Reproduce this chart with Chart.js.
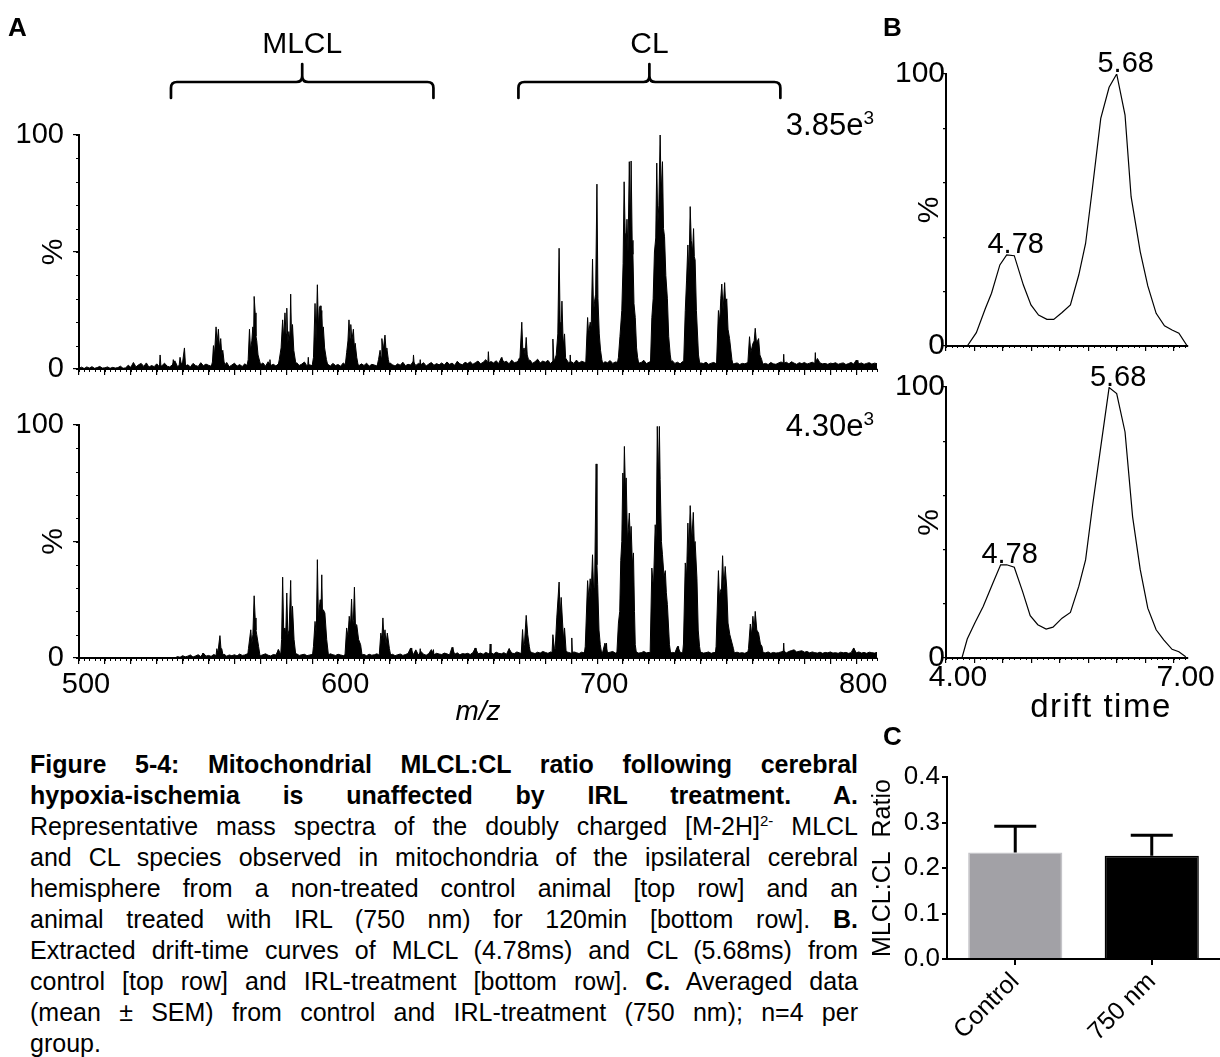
<!DOCTYPE html>
<html>
<head>
<meta charset="utf-8">
<script src="https://cdn.jsdelivr.net/npm/chart.js@4.4.1/dist/chart.umd.min.js"></script>
<style>
html, body { margin: 0; padding: 0; background: #fff; }
body { width: 1220px; height: 1057px; overflow: hidden; position: relative; font-family: "Liberation Sans", Arial, sans-serif; color: #000; }
canvas { position: absolute; }
.txt { position: absolute; line-height: 1; white-space: nowrap; }
.panel { font-weight: bold; font-size: 26px; }
.scaleLbl { font-size: 31px; width: 174px; text-align: right; }
.scaleLbl span { font-size: 19px; vertical-align: 11px; }
#caption { position: absolute; left: 30px; top: 749px; width: 828px; font-size: 25px; line-height: 31px; }
#caption .ln { text-align: justify; text-align-last: justify; text-justify: inter-word; height: 31px; }
#caption .ln.last { text-align-last: left; }
#caption sup { font-size: 15px; line-height: 0; vertical-align: 9px; }
</style>
</head>
<body>
<canvas id="specCtl" width="900" height="380" style="left:0;top:0"></canvas>
<canvas id="specIrl" width="900" height="360" style="left:0;top:380px"></canvas>
<canvas id="driftCtl" width="340" height="380" style="left:880px;top:0"></canvas>
<canvas id="driftIrl" width="340" height="380" style="left:880px;top:350px"></canvas>
<canvas id="ratio" width="380" height="317" style="left:860px;top:740px"></canvas>

<div class="txt panel" style="left:8px;top:14px">A</div>
<div class="txt panel" style="left:883px;top:14px">B</div>
<div class="txt panel" style="left:883px;top:723px">C</div>
<div class="txt scaleLbl" style="left:700px;top:108px">3.85e<span>3</span></div>
<div class="txt scaleLbl" style="left:700px;top:409px">4.30e<span>3</span></div>
<div class="txt" style="left:1001px;top:689px;width:200px;text-align:center;font-size:33px;letter-spacing:1.5px">drift time</div>

<div id="caption">
  <div class="ln"><b>Figure 5-4: Mitochondrial MLCL:CL ratio following cerebral</b></div>
  <div class="ln"><b>hypoxia-ischemia is unaffected by IRL treatment. A.</b></div>
  <div class="ln">Representative mass spectra of the doubly charged [M-2H]<sup>2-</sup> MLCL</div>
  <div class="ln">and CL species observed in mitochondria of the ipsilateral cerebral</div>
  <div class="ln">hemisphere from a non-treated control animal [top row] and an</div>
  <div class="ln">animal treated with IRL (750 nm) for 120min [bottom row]. <b>B.</b></div>
  <div class="ln">Extracted drift-time curves of MLCL (4.78ms) and CL (5.68ms) from</div>
  <div class="ln">control [top row] and IRL-treatment [bottom row]. <b>C.</b> Averaged data</div>
  <div class="ln">(mean ± SEM) from control and IRL-treatment (750 nm); n=4 per</div>
  <div class="ln last">group.</div>
</div>

<script>
// --- panel A: mass spectra (m/z vs %), baseline noise sampled every 1 m/z from 500 ---
const noiseStartMz = 500;

const ctlNoise = [
  0.3,0.8,0.2,0.9,0.4,1.0,0.3,0.6,1.1,0.4,
  0.5,0.9,0.3,0.7,0.4,0.6,1.2,0.3,0.5,1.6,
  0.7,2.8,0.9,1.8,2.4,1.1,2.6,0.8,1.5,1.0,
  2.2,1.0,1.4,2.5,1.2,0.9,1.7,3.5,1.1,1.6,
  2.0,1.3,1.8,0.9,2.4,1.5,1.1,2.7,1.4,2.1,
  1.6,1.2,2.3,1.9,1.5,2.2,1.3,2.8,1.0,1.7,
  2.5,1.2,1.9,1.1,2.2,1.4,2.0,1.6,1.3,2.4,
  1.8,2.6,1.2,3.1,1.5,2.0,1.3,2.2,1.6,1.1,
  1.9,1.4,2.3,1.2,2.7,1.5,2.1,3.0,1.3,1.8,
  1.4,2.2,1.7,1.1,2.5,1.6,2.0,1.3,2.4,1.5,
  1.9,1.2,2.6,1.6,1.3,2.1,1.8,2.9,1.4,2.2,
  1.5,2.5,1.2,2.0,1.7,1.3,2.3,1.6,2.1,1.4,
  2.6,1.8,1.3,2.2,1.6,2.9,1.4,2.0,1.7,3.2,
  1.5,2.4,1.9,2.7,1.3,2.1,2.8,1.6,2.3,1.8,
  2.6,1.7,3.0,2.0,2.5,1.6,3.3,2.2,1.8,2.9,
  2.3,3.1,2.0,2.7,3.4,2.2,2.9,4.0,2.5,3.2,
  2.6,3.5,2.4,4.8,2.9,3.3,2.2,3.8,2.7,3.0,
  3.6,2.5,3.2,2.8,3.9,2.4,3.1,4.2,2.6,3.4,
  2.9,3.7,2.3,3.5,2.8,3.2,2.5,3.6,4.3,2.7,
  3.1,2.4,3.8,2.6,3.3,2.9,2.5,3.5,2.8,3.0,
  2.6,3.4,2.2,3.1,2.7,3.6,2.4,3.0,2.8,2.5,
  3.2,2.6,3.0,2.4,2.9,3.3,2.5,2.8,3.7,2.3,
  2.9,3.4,2.6,3.0,2.5,2.8,3.1,2.4,2.7,3.5,
  2.4,2.9,2.2,3.2,2.6,2.3,2.8,2.5,3.0,2.1,
  2.6,2.3,2.9,2.0,2.5,2.8,2.2,2.4,2.7,2.1,
  2.5,2.8,2.0,2.3,2.6,1.9,2.4,2.2,2.7,2.0,
  2.3,2.6,1.8,2.5,2.1,2.4,1.9,2.8,2.2,2.0,
  2.6,3.0,2.4,2.9,2.2,3.1,2.5,2.0,2.7,2.3,
  2.8,2.1,2.5,2.9,2.3,4.5,2.6,2.2,2.4,2.0,
  2.5,2.3,2.7,2.0,2.4,2.6,1.9,2.3,2.8,2.1,
  3.8,2.2,2.6,2.0,2.4,2.7,2.1,2.5,2.3
];

const irlNoise = [
  0,0,0,0,0,0,0,0,0,0,
  0,0,0,0,0,0,0,0,0,0,
  0,0,0,0,0,0,0,0,0,0,
  0,0,0,0,0,0,0,0,
  0.6,0.3,1.0,0.5,0.8,1.3,0.4,0.9,1.4,0.6,2.1,0.8,
  1.1,0.7,1.5,1.0,1.2,0.9,1.6,0.8,1.3,1.0,
  1.4,0.9,1.7,1.1,1.3,1.8,1.0,1.5,1.2,1.6,
  1.0,1.4,1.8,1.2,0.9,1.5,1.3,3.6,1.1,1.4,
  1.7,1.0,1.5,1.2,1.8,1.1,1.4,1.6,1.0,1.3,
  1.5,1.1,1.7,1.3,1.0,1.6,1.2,1.8,1.4,1.1,
  1.6,1.3,1.0,1.5,1.2,1.7,1.4,1.1,1.9,1.3,
  1.5,1.0,1.6,1.2,1.4,1.8,1.1,1.5,1.3,1.7,
  1.2,1.6,1.0,1.4,1.7,1.1,1.5,1.9,4.3,1.4,
  3.5,1.3,2.8,1.6,1.2,1.9,3.6,1.4,2.0,1.7,
  1.5,2.1,1.8,1.3,4.6,1.6,2.2,1.4,1.9,1.7,
  2.0,1.5,2.3,4.3,1.8,2.1,1.6,2.4,1.9,2.2,
  1.7,2.5,2.0,1.8,2.3,1.6,4.0,2.1,1.9,2.6,
  2.2,1.8,2.4,2.0,2.7,2.3,1.9,2.5,2.1,2.8,
  2.4,2.0,2.6,2.2,1.9,2.5,2.3,2.1,2.7,2.4,
  2.0,2.6,2.3,1.9,2.5,2.2,2.8,2.1,2.4,2.0,
  2.3,2.6,2.0,6.4,2.2,2.5,2.8,2.1,2.4,2.0,
  2.5,2.2,2.7,2.0,2.4,2.6,2.1,2.3,2.8,2.2,
  2.4,2.0,2.6,2.3,2.1,2.5,2.2,2.7,2.0,2.4,
  2.2,5.0,2.5,2.1,2.3,2.6,2.0,2.4,2.7,2.2,
  2.5,2.1,2.3,2.6,2.0,2.4,2.2,2.7,2.1,2.3,
  2.6,2.0,2.4,2.2,2.5,2.1,2.3,2.0,2.6,2.2,
  2.4,2.1,2.5,2.0,2.3,2.2,2.6,2.0,2.4,2.1,
  2.3,2.6,3.0,2.2,2.8,3.2,3.5,2.6,2.9,3.1,
  2.5,2.8,2.2,2.6,2.3,2.1,2.5,2.0,2.4,2.2,
  2.6,2.1,2.3,2.0,2.5,2.2,2.4,2.0,2.3,4.3,
  2.2,2.6,2.1,2.4,2.0,2.5,2.3,2.1,2.4
];

// isotope clusters, [m/z, %]
const ctlPeaks = [
  [531.0,0],[531.3,6],[531.7,0],
  [536.0,0],[536.4,4],[536.8,0],
  [538.5,0],[539.0,5],[539.5,2],[540.0,3],[540.7,9],[541.2,0],
  [550.8,0],[551.5,3],[551.9,10],[552.3,6],[552.9,18],[553.3,11],[553.8,17],[554.2,9],[554.7,13],[555.1,6],[555.5,8],[556.0,3],[556.8,0],
  [564.6,0],[565.3,4],[565.8,17],[566.2,8],[566.7,12],[567.1,18],[567.4,14],[567.6,31],[568.0,24],[568.3,14],[568.6,12],[569.1,6],[569.8,3],[570.6,0],
  [573.4,0],[573.7,4],[574.0,0],
  [576.6,0],[577.3,4],[578.0,9],[578.6,21],[579.0,13],[579.5,24],[579.9,15],[580.2,26],[580.6,11],[581.0,16],[581.4,12],[581.7,32],[582.0,15],[582.4,19],[582.9,8],[583.6,3],[584.4,0],
  [588.2,0],[588.5,5],[588.8,0],
  [589.8,0],[590.5,5],[591.1,28],[591.5,12],[592.0,36],[592.4,18],[592.8,26],[593.1,27],[593.4,19],[593.7,25],[594.0,15],[594.3,18],[594.8,9],[595.5,4],[596.4,0],
  [602.6,0],[603.3,7],[603.8,12],[604.2,21],[604.6,13],[604.9,19],[605.3,12],[605.9,17],[606.3,9],[606.6,11],[607.2,5],[608.0,0],
  [614.8,0],[615.6,4],[616.2,8],[616.6,5],[616.9,13],[617.4,8],[618.1,14.5],[618.5,8],[618.8,9],[619.4,4],[620.2,0],
  [628.8,0],[629.1,6],[629.5,0],[631.4,0],[631.7,4],[632.0,0],
  [657.7,0],[658.0,7.4],[658.4,0],[662.9,0],[663.2,5],[663.6,0],
  [669.2,0],[669.6,4],[670.2,5],[670.9,20],[671.3,8],[671.8,9],[672.2,6],[672.6,13.5],[673.0,6],[673.5,4],[674.2,0],
  [682.6,0],[682.9,12.8],[683.3,3],[684.2,6],[684.8,15],[685.3,51.6],[685.7,20],[686.0,14],[686.4,29],[686.9,10],[687.4,15],[687.8,5],[688.6,0],
  [689.4,0],[689.6,6],[689.9,0],
  [695.5,0],[696.3,22],[696.7,15],[697.3,20],[697.7,18],[698.2,47],[698.6,24],[699.0,29],[699.4,32],[699.9,79],[700.3,30],[700.8,15],[701.3,8],[701.8,4],[702.6,0],
  [707.4,0],[708.2,5],[708.8,14],[709.5,25],[710.0,45],[710.4,80],[710.8,58],[711.1,52],[711.5,64],[711.9,50],[712.4,88.6],[712.8,60],[713.1,88.9],[713.5,55],[713.8,49],[714.2,28],[714.7,22],[715.2,9],[715.6,5],[716.4,0],
  [720.5,0],[721.1,22],[721.6,30],[722.1,50],[722.6,56],[723.0,88],[723.4,62],[723.8,70],[724.3,100],[724.7,75],[725.2,88.6],[725.6,60],[726.0,56.5],[726.5,40],[727.1,30],[727.6,14],[728.2,6],[729.0,0],
  [733.3,0],[734.0,25],[734.5,38],[735.0,53],[735.4,40],[735.9,69.4],[736.3,55],[736.8,50],[737.2,60],[737.5,48],[737.8,46.6],[738.3,25],[739.1,6],[739.9,0],
  [746.0,0],[746.8,25],[747.3,20],[747.7,30],[748.1,36.3],[748.6,25],[749.2,36.9],[749.6,27],[750.0,30],[750.5,17],[751.1,13],[752.0,4],[752.8,0],
  [758.0,0],[758.8,13.8],[759.3,7],[760.1,10.9],[760.6,12],[761.0,17.4],[761.5,11],[762.3,13],[762.8,6],[763.5,4],[764.4,0],
  [771.7,0],[772.0,6.3],[772.3,0],[783.9,0],[784.2,7],[784.5,0],[800.0,0],[800.3,3.7],[800.6,0]
];

const irlPeaks = [
  [547.5,0],[547.8,2.1],[548.1,0],
  [552.8,0],[553.2,4],[553.6,2],[554.0,6],[554.4,9.6],[554.8,4],[555.1,4],[555.8,0],
  [565.0,0],[565.4,4],[566.3,12.1],[566.7,6],[567.1,10],[567.6,26.7],[568.0,17.2],[568.3,12],[568.6,10],[569.3,5],[570.0,0],
  [576.6,0],[576.9,3.6],[577.2,0],
  [577.8,0],[578.2,8],[578.6,34.7],[579.0,12],[579.5,12.9],[579.8,10],[580.2,27.9],[580.6,10],[581.1,12],[581.7,33.3],[582.0,15],[582.4,22.2],[583.0,8],[583.8,0],
  [590.0,0],[590.5,5],[591.1,15.7],[591.6,10],[592.0,42.2],[592.4,18],[592.6,20],[593.1,25],[593.4,20],[593.7,35.7],[594.0,18],[594.3,20.7],[594.9,19.3],[595.6,8],[596.4,0],
  [602.6,0],[603.3,12.9],[603.8,9],[604.3,17.9],[604.8,14],[605.2,25.3],[605.6,14],[605.9,16],[606.3,30.4],[606.7,14],[607.2,14.3],[607.9,8],[608.7,5.7],[609.4,0],
  [615.8,0],[616.5,10.7],[616.9,8],[617.3,17.2],[617.7,8],[618.1,12.1],[618.5,6],[619.0,10.7],[619.8,4],[620.5,0],
  [628.1,0],[628.4,4.3],[628.8,0],[631.4,0],[631.7,4],[632.0,0],[636.5,0],[636.8,3.6],[637.1,0],
  [644.0,0],[644.3,4.6],[644.6,0],[652.6,0],[652.9,4.3],[653.2,0],[658.4,0],[658.7,6],[659.0,0],[665.8,0],[666.1,4],[666.4,0],
  [670.6,0],[671.2,12.2],[671.6,5],[671.9,5.7],[672.6,18.3],[673.2,10],[673.8,5],[674.6,0],
  [682.5,0],[682.9,10],[683.5,4],[683.8,4],[684.4,17.2],[685.3,32.6],[685.7,18],[686.1,26],[687.0,8],[687.4,12.9],[688.0,3],[688.8,0],
  [689.9,0],[690.2,8.6],[690.5,0],
  [694.8,0],[695.4,5],[696.3,33.2],[696.8,25],[697.3,34],[697.7,28],[698.2,44.3],[698.6,30],[699.0,30],[699.6,83.3],[699.9,40],[700.2,31.5],[700.7,12],[701.2,5.7],[702.0,0],
  [703.3,0],[703.6,6.4],[703.9,0],
  [707.5,0],[708.2,15],[708.7,20],[709.1,41.8],[709.5,50],[709.9,79.4],[710.2,70],[710.5,90.8],[710.9,72],[711.2,77.3],[711.7,50],[712.0,55],[712.4,62.2],[712.8,50],[713.1,56.5],[713.6,40],[714.0,45.1],[714.4,20],[714.7,5.7],[715.4,0],
  [720.4,0],[721.1,38.6],[721.7,30],[722.4,57.2],[722.8,50],[723.2,99.4],[723.6,76],[724.0,99.4],[724.3,76.5],[724.8,50],[725.2,44.3],[725.8,35],[726.3,37.5],[726.7,28],[727.1,22.9],[727.9,5.7],[728.6,0],
  [731.1,0],[731.4,5],[731.7,0],
  [732.8,0],[733.3,6],[734.0,40.8],[734.5,35],[735.0,57.9],[735.4,45],[735.9,65.4],[736.5,50],[737.1,62.5],[737.5,48],[737.8,50],[738.5,34.3],[739.0,12],[739.5,5],[740.2,0],
  [745.4,0],[745.9,5],[746.8,37.5],[747.2,25],[747.5,28.6],[748.0,30],[748.4,43.9],[748.9,30],[749.4,39.3],[750.0,30],[750.5,15],[751.2,10],[752.6,4],[753.3,0],
  [757.8,0],[758.4,4],[759.1,14.6],[759.6,10],[760.1,17.9],[760.6,12],[761.0,20],[761.6,12],[762.3,10.7],[763.0,6],[763.6,5],[764.4,0],
  [771.7,0],[772.0,6.4],[772.3,0],[798.7,0],[799.0,4.3],[799.3,0]
];

const speciesBrackets = [
  { text: 'MLCL', from: 535.5, to: 636.8 },
  { text: 'CL', from: 669.6, to: 770.7 }
];

// --- panel B: drift-time curves ---
const driftTicks = [4, 4.375, 4.75, 5.125, 5.5, 5.875, 6.25, 6.625, 7];
const ctlDriftT = [4.28,4.40,4.52,4.60,4.71,4.80,4.90,5.02,5.12,5.22,5.33,5.42,5.53,5.64,5.75,5.84,5.93,6.04,6.15,6.25,6.36,6.44,6.56,6.66,6.77,6.88,6.98,7.07,7.18];
const ctlDriftPct = [0,4.9,13.9,19.4,29.8,33.5,33.2,22.4,15.1,11.4,9.8,9.8,12.3,15.1,26.1,37.7,58,83.7,95.1,100,84.9,54.9,34.7,22.1,12,7.4,5.9,4.7,0];
const irlDriftT = [4.21,4.28,4.38,4.49,4.62,4.72,4.80,4.90,5.01,5.11,5.21,5.32,5.41,5.53,5.64,5.75,5.84,5.93,6.04,6.15,6.25,6.36,6.46,6.56,6.66,6.77,6.87,6.98,7.07,7.16];
const irlDriftPct = [0,7,12.9,19,27.8,34.4,34.4,33.5,24.5,15.6,12.3,10.7,11.4,14.7,16.8,26.4,36.2,55.8,77.9,99.8,97.6,83.4,52.1,32.7,18.4,10.4,6.7,3.2,2.3,0.5];
const driftPeakText = ['4.78', '5.68'];
const ctlPeakIdx = [5, 19];
const irlPeakIdx = [5, 19];

// --- panel C: MLCL:CL ratio ---
const groups = ['Control', '750 nm'];
const ratioMean = [0.234, 0.227];
const ratioSem = [0.058, 0.045];
const ratioTicks = [0, 0.1, 0.2, 0.3, 0.4];

const FONT = '"Liberation Sans", Arial, sans-serif';
Chart.defaults.font.family = FONT;
Chart.defaults.color = '#000';

// fixed axis box so the plot areas land where the original has them
function fixSize(size) {
  return function (scale) {
    if (scale.isHorizontal()) scale.height = size; else scale.width = size;
    scale.paddingLeft = scale.paddingRight = scale.paddingTop = scale.paddingBottom = 0;
  };
}

const minorTicks = {
  id: 'minorTicks',
  afterDraw(chart, args, opts) {
    const ctx = chart.ctx;
    ctx.save();
    ctx.strokeStyle = '#000';
    ctx.lineWidth = 1;
    ctx.beginPath();
    (opts.list || []).forEach(m => {
      const s = chart.scales[m.axis];
      for (let k = 0; m.from + k * m.step <= s.max + 1e-9; k++) {
        const p = Math.round(s.getPixelForValue(m.from + k * m.step)) + 0.5;
        if (s.isHorizontal()) { ctx.moveTo(p, s.top); ctx.lineTo(p, s.top + m.len); }
        else { ctx.moveTo(s.right, p); ctx.lineTo(s.right - m.len, p); }
      }
    });
    ctx.stroke();
    ctx.restore();
  }
};

const brackets = {
  id: 'brackets',
  afterDraw(chart, args, opts) {
    if (!opts.items) return;
    const ctx = chart.ctx, x = chart.scales.x;
    ctx.save();
    ctx.lineWidth = 2.7;
    ctx.strokeStyle = '#000';
    ctx.fillStyle = '#000';
    ctx.lineCap = 'round';
    ctx.font = '30px ' + FONT;
    ctx.textAlign = 'center';
    ctx.textBaseline = 'alphabetic';
    const yTop = opts.y, yEnd = opts.y + 16, yTip = opts.y - 18, r = 6;
    opts.items.forEach(b => {
      const x1 = x.getPixelForValue(b.from), x2 = x.getPixelForValue(b.to), xc = (x1 + x2) / 2;
      ctx.beginPath();
      ctx.moveTo(x1, yEnd); ctx.lineTo(x1, yTop + r); ctx.quadraticCurveTo(x1, yTop, x1 + r, yTop);
      ctx.lineTo(xc - r, yTop); ctx.quadraticCurveTo(xc, yTop, xc, yTop - r); ctx.lineTo(xc, yTip);
      ctx.moveTo(xc, yTip); ctx.lineTo(xc, yTop - r); ctx.quadraticCurveTo(xc, yTop, xc + r, yTop);
      ctx.lineTo(x2 - r, yTop); ctx.quadraticCurveTo(x2, yTop, x2, yTop + r); ctx.lineTo(x2, yEnd);
      ctx.stroke();
      ctx.fillText(b.text, xc, opts.textY);
    });
    ctx.restore();
  }
};

const peakLabels = {
  id: 'peakLabels',
  afterDatasetsDraw(chart, args, opts) {
    if (!opts.idx) return;
    const ctx = chart.ctx, meta = chart.getDatasetMeta(0);
    ctx.save();
    ctx.fillStyle = '#000';
    ctx.font = '29px ' + FONT;
    ctx.textAlign = 'center';
    ctx.textBaseline = 'alphabetic';
    opts.idx.forEach((i, k) => {
      const pt = meta.data[i];
      ctx.fillText(opts.text[k], pt.x + 9, pt.y - 2);
    });
    ctx.restore();
  }
};

const errorBars = {
  id: 'errorBars',
  afterDatasetsDraw(chart, args, opts) {
    if (!opts.errors) return;
    const ctx = chart.ctx, y = chart.scales.y, meta = chart.getDatasetMeta(0);
    const values = chart.data.datasets[0].data;
    ctx.save();
    ctx.strokeStyle = '#000';
    ctx.lineWidth = 3;
    meta.data.forEach((bar, i) => {
      const top = y.getPixelForValue(values[i] + opts.errors[i]);
      ctx.beginPath();
      ctx.moveTo(bar.x, bar.y); ctx.lineTo(bar.x, top);
      ctx.moveTo(bar.x - opts.cap / 2, top); ctx.lineTo(bar.x + opts.cap / 2, top);
      ctx.stroke();
    });
    ctx.restore();
  }
};

const blackLine = { borderColor: '#000', backgroundColor: '#000', borderWidth: 1, pointRadius: 0, tension: 0, fill: 'origin' };

function spectrum(id, noise, peaks, padTop, xHeight, showMz, bracketOpts) {
  return new Chart(document.getElementById(id), {
    type: 'line',
    data: {
      datasets: [
        Object.assign({ data: noise.map((v, i) => ({ x: noiseStartMz + i, y: v })) }, blackLine),
        Object.assign({ data: peaks.map(p => ({ x: p[0], y: p[1] })) }, blackLine)
      ]
    },
    options: {
      responsive: false, animation: false, events: [],
      layout: { padding: { left: 0, top: padTop, right: 23, bottom: 0 } },
      plugins: {
        legend: { display: false }, tooltip: { enabled: false },
        minorTicks: { list: [{ axis: 'x', from: 500, step: 2, len: 3 }, { axis: 'y', from: 0, step: 10, len: 3 }] },
        brackets: bracketOpts || {}
      },
      scales: {
        x: {
          type: 'linear', min: 500, max: 808,
          afterFit: fixSize(xHeight),
          border: { display: true, color: '#000', width: 2 },
          grid: { display: true, drawOnChartArea: false, drawTicks: true, tickLength: 6, color: '#000', lineWidth: 1.2 },
          ticks: {
            stepSize: 10, autoSkip: false, includeBounds: false, minRotation: 0, maxRotation: 0,
            labelOffset: 7, padding: 4, font: { size: 29 }, color: '#000',
            callback: v => (showMz && v % 100 === 0) ? String(v) : ''
          },
          title: { display: showMz, text: 'm/z', color: '#000', font: { size: 28, style: 'italic' }, padding: { top: 0, bottom: 11 } }
        },
        y: {
          min: 0, max: 100,
          afterFit: fixSize(79),
          border: { display: true, color: '#000', width: 2 },
          grid: { display: true, drawOnChartArea: false, drawTicks: true, tickLength: 6, color: '#000', lineWidth: 1.2 },
          ticks: { stepSize: 50, padding: 9, font: { size: 29 }, color: '#000', callback: v => v === 50 ? '' : String(v) },
          title: { display: true, text: '%', color: '#000', font: { size: 30 }, padding: { top: 36, bottom: 0 } }
        }
      }
    },
    plugins: [minorTicks, brackets]
  });
}

function drift(id, times, pct, peakIdx, padTop, xHeight, showLabels) {
  return new Chart(document.getElementById(id), {
    type: 'line',
    data: {
      datasets: [{
        data: times.map((t, i) => ({ x: t, y: pct[i] })),
        borderColor: '#000', borderWidth: 1.2, pointRadius: 0, tension: 0, fill: false
      }]
    },
    options: {
      responsive: false, animation: false, events: [],
      layout: { padding: { left: 0, top: padTop, right: 32, bottom: 0 } },
      plugins: {
        legend: { display: false }, tooltip: { enabled: false },
        minorTicks: { list: [{ axis: 'x', from: 4, step: 0.075, len: 2 }] },
        peakLabels: { idx: peakIdx, text: driftPeakText }
      },
      scales: {
        x: {
          type: 'linear', min: 4, max: 7.19,
          afterFit: fixSize(xHeight),
          afterBuildTicks: s => { s.ticks = driftTicks.map(v => ({ value: v })); },
          border: { display: true, color: '#000', width: 2 },
          grid: { display: true, drawOnChartArea: false, drawTicks: true, tickLength: 5, color: '#000', lineWidth: 1.2 },
          ticks: {
            autoSkip: false, minRotation: 0, maxRotation: 0, labelOffset: 12, padding: -3,
            font: { size: 30 }, color: '#000',
            callback: v => (showLabels && (v === 4 || v === 7)) ? v.toFixed(2) : ''
          }
        },
        y: {
          min: 0, max: 100,
          afterFit: fixSize(66),
          border: { display: true, color: '#000', width: 2 },
          grid: { display: true, drawOnChartArea: false, drawTicks: true, tickLength: 3, color: '#000', lineWidth: 1.2 },
          ticks: { stepSize: 10, padding: -2, font: { size: 30 }, color: '#000', callback: v => (v === 0 || v === 100) ? String(v) : '' },
          title: { display: true, text: '%', color: '#000', font: { size: 30 }, padding: { top: 32, bottom: 0 } }
        }
      }
    },
    plugins: [minorTicks, peakLabels]
  });
}

spectrum('specCtl', ctlNoise, ctlPeaks, 135, 11, false, { items: speciesBrackets, y: 82, textY: 53 });
spectrum('specIrl', irlNoise, irlPeaks, 45, 82, true, null);
drift('driftCtl', ctlDriftT, ctlDriftPct, ctlPeakIdx, 74, 34, false);
drift('driftIrl', irlDriftT, irlDriftPct, irlPeakIdx, 37, 72, true);

new Chart(document.getElementById('ratio'), {
  type: 'bar',
  data: {
    labels: groups,
    datasets: [{
      data: ratioMean,
      backgroundColor: ['#a2a1a6', '#000000'],
      borderColor: ['#c4c4c8', '#000000'],
      borderWidth: 1.5,
      barPercentage: 0.69,
      categoryPercentage: 1
    }]
  },
  options: {
    responsive: false, animation: false, events: [],
    layout: { padding: { left: 0, top: 37, right: 20, bottom: 0 } },
    plugins: { legend: { display: false }, tooltip: { enabled: false }, errorBars: { errors: ratioSem, cap: 42 } },
    scales: {
      x: {
        offset: true,
        afterFit: fixSize(98),
        border: { display: true, color: '#000', width: 2 },
        grid: { display: true, offset: false, drawOnChartArea: false, drawTicks: true, tickLength: 6, color: '#000', lineWidth: 2 },
        ticks: { minRotation: 45, maxRotation: 45, padding: 2, font: { size: 25 }, color: '#000' }
      },
      y: {
        min: 0, max: 0.4,
        afterFit: fixSize(87),
        afterBuildTicks: s => { s.ticks = ratioTicks.map(v => ({ value: v })); },
        border: { display: true, color: '#000', width: 2 },
        grid: { display: true, drawOnChartArea: false, drawTicks: true, tickLength: 5, color: '#000', lineWidth: 2 },
        ticks: { padding: 2, font: { size: 26 }, color: '#000', callback: v => v.toFixed(1) },
        title: { display: true, text: 'MLCL:CL  Ratio', color: '#000', font: { size: 25 }, padding: { top: 8, bottom: 0 } }
      }
    }
  },
  plugins: [errorBars]
});
</script>
</body>
</html>
